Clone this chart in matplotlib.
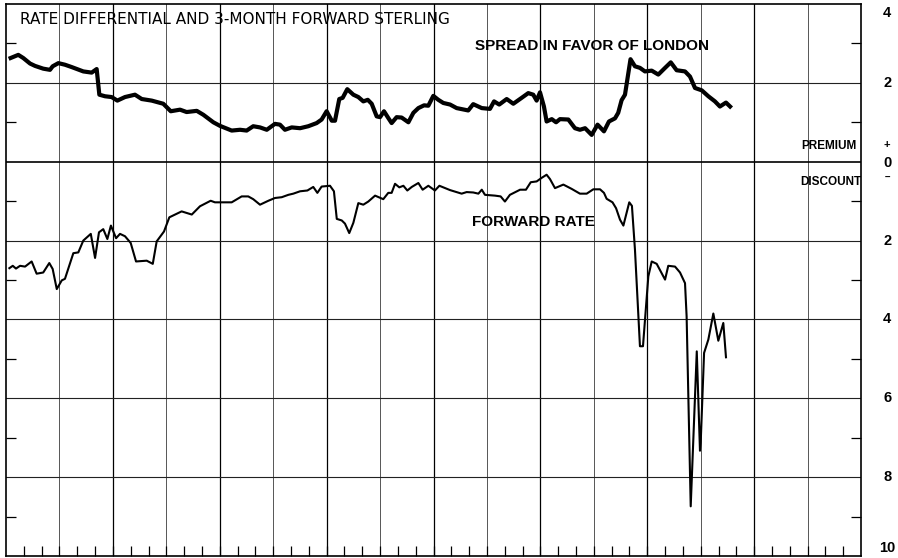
import numpy as np
import matplotlib.pyplot as plt
from matplotlib.transforms import blended_transform_factory

# months from start of chart (gridline every 3 months), percent per annum
spread_month = [0.26, 0.69, 0.97, 1.35, 1.63, 2.09, 2.47, 2.62, 2.94, 3.31, 3.69, 4.34, 4.81, 5.09,
                5.24, 5.56, 5.93, 6.25, 6.68, 7.24, 7.62, 8.18, 8.83, 9.25, 9.77, 10.14, 10.71, 11.08,
                11.64, 12.01, 12.67, 13.14, 13.51, 13.88, 14.26, 14.64, 15.10, 15.38, 15.66, 16.04,
                16.51, 16.97, 17.44, 17.72, 18.00, 18.29, 18.47, 18.71, 18.90, 19.16, 19.50, 19.78,
                20.06, 20.31, 20.53, 20.81, 21.00, 21.22, 21.46, 21.65, 21.93, 22.21, 22.59, 22.87,
                23.15, 23.47, 23.71, 23.99, 24.27, 24.55, 24.93, 25.30, 25.95, 26.23, 26.71, 27.17,
                27.40, 27.69, 28.11, 28.48, 28.95, 29.32, 29.60, 29.79, 29.98, 30.20, 30.35, 30.64,
                30.88, 31.10, 31.57, 31.94, 32.22, 32.51, 32.88, 33.21, 33.57, 33.85, 34.19, 34.37,
                34.56, 34.75, 35.06, 35.31, 35.59, 35.87, 36.25, 36.62, 37.00, 37.32, 37.65, 38.12,
                38.40, 38.68, 39.06, 39.43, 39.80, 40.08, 40.42, 40.65]
spread_pct = [2.63, 2.71, 2.63, 2.49, 2.43, 2.36, 2.33, 2.42, 2.50, 2.46, 2.40, 2.29, 2.26, 2.35,
              1.70, 1.66, 1.64, 1.55, 1.64, 1.70, 1.59, 1.55, 1.47, 1.28, 1.32, 1.26, 1.29, 1.19,
              1.00, 0.91, 0.79, 0.81, 0.79, 0.90, 0.87, 0.81, 0.96, 0.94, 0.81, 0.87,
              0.85, 0.90, 0.98, 1.07, 1.28, 1.04, 1.04, 1.59, 1.62, 1.84, 1.70, 1.64,
              1.53, 1.57, 1.47, 1.15, 1.13, 1.28, 1.11, 0.98, 1.13, 1.12, 1.00, 1.24,
              1.36, 1.43, 1.42, 1.67, 1.57, 1.49, 1.45, 1.36, 1.30, 1.46, 1.36, 1.34,
              1.53, 1.45, 1.59, 1.47, 1.62, 1.74, 1.70, 1.55, 1.76, 1.40, 1.02, 1.08,
              1.00, 1.08, 1.07, 0.85, 0.81, 0.85, 0.68, 0.94, 0.77, 1.02, 1.10, 1.24,
              1.56, 1.70, 2.60, 2.42, 2.38, 2.29, 2.31, 2.21, 2.38, 2.52, 2.32, 2.29,
              2.16, 1.87, 1.81, 1.66, 1.53, 1.40, 1.50, 1.40]

fwd_month = [0.19, 0.38, 0.56, 0.79, 1.07, 1.44, 1.72, 2.09, 2.43, 2.62, 2.85, 3.13, 3.31, 3.78,
             4.06, 4.34, 4.76, 5.00, 5.22, 5.46, 5.69, 5.89, 6.18, 6.40, 6.68, 7.00, 7.30, 7.90,
             8.24, 8.46, 8.87, 9.17, 9.86, 10.43, 10.89, 11.49, 11.73, 12.67, 13.23, 13.60, 13.88,
             14.26, 14.73, 15.10, 15.48, 15.85, 16.13, 16.51, 16.92, 17.25, 17.48, 17.72, 18.19,
             18.41, 18.57, 18.85, 19.03, 19.27, 19.50, 19.78, 20.06, 20.34, 20.72, 21.18, 21.46,
             21.65, 21.84, 22.08, 22.31, 22.53, 22.78, 23.15, 23.39, 23.71, 24.08, 24.33, 24.65,
             24.93, 25.58, 25.86, 26.23, 26.52, 26.71, 26.89, 27.45, 27.77, 28.01, 28.29, 28.86,
             29.19, 29.46, 29.79, 30.07, 30.35, 30.54, 30.82, 31.29, 31.76, 32.22, 32.60, 32.97,
             33.35, 33.57, 33.72, 34.05, 34.25, 34.47, 34.66, 34.85, 34.99, 35.14, 35.31, 35.59,
             35.76, 36.06, 36.25, 36.53, 37.00, 37.18, 37.56, 37.84, 38.12, 38.21, 38.44, 38.78,
             38.96, 39.00, 39.19, 39.43, 39.71, 39.99, 40.27, 40.42]
# negative = discount
fwd_pct = [-2.70, -2.64, -2.71, -2.64, -2.66, -2.53, -2.84, -2.81, -2.57, -2.72, -3.23, -3.01, -2.97, -2.32,
           -2.30, -2.00, -1.83, -2.44, -1.79, -1.71, -1.96, -1.62, -1.94, -1.83, -1.89, -2.06, -2.53, -2.51,
           -2.59, -2.02, -1.77, -1.41, -1.26, -1.34, -1.13, -0.99, -1.03, -1.03, -0.88, -0.88, -0.95,
           -1.09, -0.99, -0.92, -0.90, -0.84, -0.81, -0.75, -0.73, -0.64, -0.79, -0.63, -0.61,
           -0.75, -1.45, -1.49, -1.57, -1.81, -1.55, -1.05, -1.09, -1.01, -0.86, -0.95, -0.79,
           -0.79, -0.56, -0.65, -0.61, -0.73, -0.64, -0.54, -0.71, -0.61, -0.73, -0.61, -0.67,
           -0.72, -0.81, -0.77, -0.78, -0.81, -0.71, -0.84, -0.86, -0.88, -1.01, -0.84, -0.71,
           -0.71, -0.52, -0.50, -0.41, -0.33, -0.44, -0.67, -0.58, -0.69, -0.81, -0.81, -0.70,
           -0.70, -0.79, -0.94, -1.03, -1.18, -1.47, -1.62, -1.28, -1.03, -1.12, -2.23, -4.68,
           -4.68, -2.91, -2.53, -2.59, -2.99, -2.64, -2.66, -2.81, -3.08, -3.92, -8.74, -4.81,
           -7.33, -7.13, -4.85, -4.51, -3.85, -4.54, -4.09, -4.96]

scale_vals = [4, 2, 0, -2, -4, -6, -8, -10]
scale_labels = ['4', '2', '0', '2', '4', '6', '8', '10']

fig = plt.figure(figsize=(8.98, 5.58), dpi=100)
ax = fig.add_axes([6 / 898, 2 / 558, 855 / 898, 552 / 558])
ax.set_xlim(0, 48)
ax.set_ylim(-10, 4)

# grid: quarter lines, half-year ones a bit heavier
for i, q in enumerate(range(3, 48, 3)):
    if i % 2 == 1:
        ax.axvline(q, color='black', lw=0.9, zorder=1)
    else:
        ax.axvline(q, color='#555555', lw=0.7, zorder=1)
for v in [2, -2, -4, -6, -8]:
    ax.axhline(v, color='#222222', lw=0.8, zorder=1)
ax.axhline(0, color='black', lw=1.2, zorder=1)

ax.plot(spread_month, spread_pct, color='black', lw=3.0, solid_joinstyle='round', zorder=3)
ax.plot(fwd_month, fwd_pct, color='black', lw=1.5, solid_joinstyle='round', zorder=3)

ax.set_xticks(np.arange(1, 48))
ax.set_yticks([3, 1, -1, -3, -5, -7, -9])
ax.tick_params(axis='x', direction='in', length=7.5, width=0.9, labelbottom=False)
ax.tick_params(axis='y', direction='in', length=7, width=0.9, left=True, right=True,
               labelleft=False, labelright=False)
for s in ax.spines.values():
    s.set_linewidth(1.2)

# right-hand scale
tr = blended_transform_factory(ax.transAxes, ax.transData)
for v, lab in zip(scale_vals, scale_labels):
    y = v
    if v == 4:
        y = 3.77
    elif v == -10:
        y = -9.8
    elif v == 0:
        y = -0.02
    ax.text(1.0305, y, lab, transform=tr, ha='center', va='center', fontsize=10.5,
            fontweight='bold', family='Liberation Sans', clip_on=False)
ax.text(1.0305, 0.43, '+', transform=tr, ha='center', va='center', fontsize=8,
        fontweight='bold', family='Liberation Sans', clip_on=False)
ax.text(1.0305, -0.42, '\u2013', transform=tr, ha='center', va='center', fontsize=7,
        fontweight='bold', family='Liberation Sans', clip_on=False)

fig.text(20 / 898, 1 - 20 / 558, 'RATE DIFFERENTIAL AND 3-MONTH FORWARD STERLING',
         fontsize=11, ha='left', va='center', family='DejaVu Sans')
fig.text(475 / 898, 1 - 46 / 558, 'SPREAD IN FAVOR OF LONDON', fontsize=11,
         fontweight='bold', ha='left', va='center', family='Liberation Sans')
fig.text(472 / 898, 1 - 222 / 558, 'FORWARD RATE', fontsize=11,
         fontweight='bold', ha='left', va='center', family='Liberation Sans')
fig.text(856 / 898, 1 - 146 / 558, 'PREMIUM', fontsize=8.5,
         fontweight='bold', ha='right', va='center', family='Liberation Sans')
fig.text(861 / 898, 1 - 182 / 558, 'DISCOUNT', fontsize=8.5,
         fontweight='bold', ha='right', va='center', family='Liberation Sans')

fig.savefig('out.png', dpi=100, facecolor='white')
